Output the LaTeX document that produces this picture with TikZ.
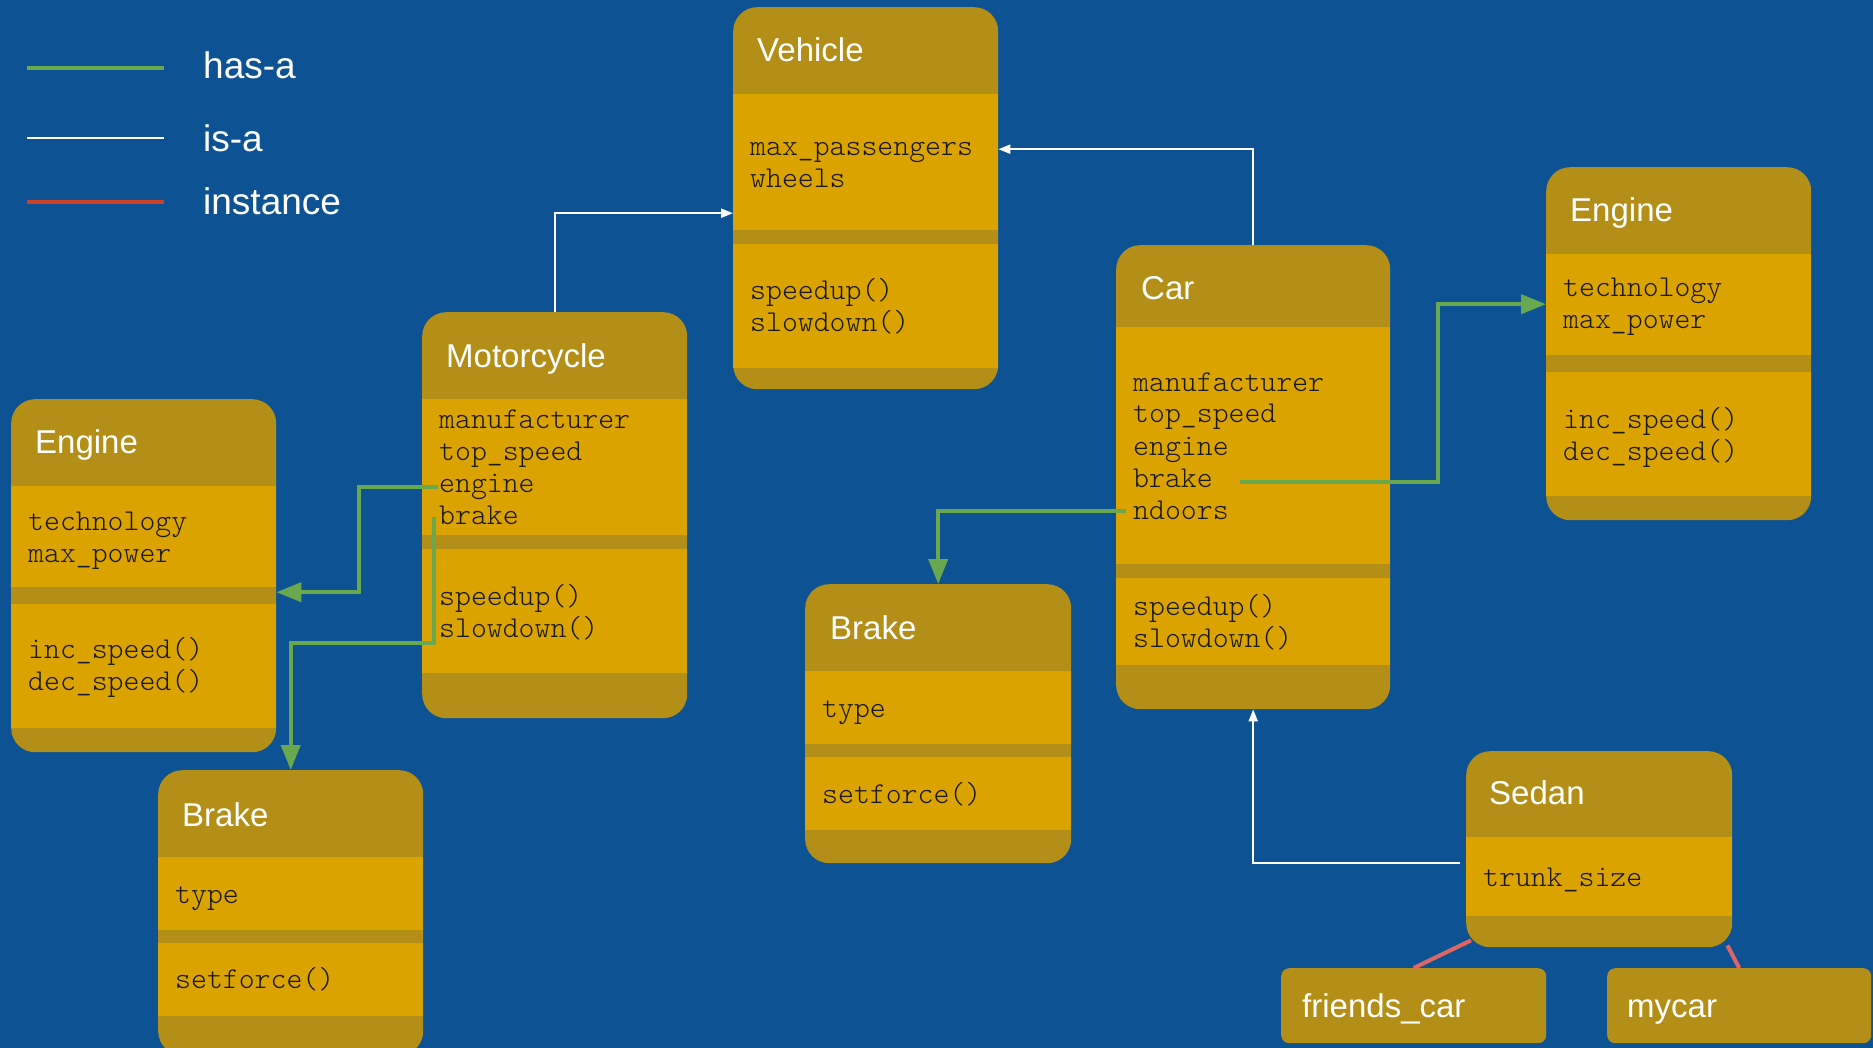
\documentclass[tikz,border=0pt]{standalone}
\usepackage{fontspec}
\setmainfont{Liberation Sans}
\newfontfamily\codefont{Latin Modern Mono Light}
\usetikzlibrary{arrows.meta}
\definecolor{bgblue}{HTML}{0D5394}
\definecolor{headgold}{HTML}{B48F18}
\definecolor{bodygold}{HTML}{DAA300}
\definecolor{hasgreen}{HTML}{6AA84F}
\definecolor{instred}{HTML}{CC4125}
\definecolor{linkred}{HTML}{E06666}
\newcommand{\members}[1]{\begin{tabular}[t]{@{}l@{}}#1\end{tabular}}

\begin{document}
\begin{tikzpicture}[x=1pt,y=-1pt,
    classbg/.style={fill=headgold,rounded corners=24pt,anchor=north west,inner sep=0pt,minimum width=265pt},
    instbox/.style={fill=headgold,rounded corners=8pt,anchor=north west,inner sep=0pt,minimum width=265pt,minimum height=75pt},
    section/.style={fill=bodygold,anchor=north west,inner sep=0pt,minimum width=265pt},
    title/.style={anchor=base west,inner sep=0pt,text=white,font=\fontsize{33}{36}\selectfont},
    fields/.style={anchor=base west,inner sep=0pt,text=black!90,font=\fontsize{30.3}{32}\selectfont\codefont},
    legend/.style={anchor=base west,inner sep=0pt,text=white,font=\fontsize{37}{40}\selectfont},
    isa/.style={draw=white,line width=2pt,-{Triangle[length=12pt,width=9pt]}},
    hasa/.style={draw=hasgreen,line width=4pt,-{Triangle[length=25pt,width=19pt]}},
    inst/.style={draw=linkred,line width=4pt}]
    \useasboundingbox (0,0) rectangle (1873,1048);
    \fill[bgblue] (0,0) rectangle (1873,1048);

    % legend
    \draw[hasgreen,line width=4.5pt] (27,68) -- (164,68);
    \draw[white,line width=2.5pt] (27,138) -- (164,138);
    \draw[instred,line width=4.5pt] (27,202) -- (164,202);
    \node[legend] (lg-has) at (203,79) {has-a};
    \node[legend] (lg-isa) at (203,152) {is-a};
    \node[legend] (lg-inst) at (203,215) {instance};

    % Vehicle
    \node[classbg,minimum height=382pt] (veh) at (733,7) {};
    \node[section,minimum height=136pt] (veh-a) at (733,94) {};
    \node[section,minimum height=124pt] (veh-m) at (733,244) {};
    \node[title] (veh-t) at (757,62) {Vehicle};
    \node[fields] (veh-af) at (750,156) {\members{max\_passengers\\wheels}};
    \node[fields] (veh-mf) at (750,300) {\members{speedup()\\slowdown()}};

    % Motorcycle
    \node[classbg,minimum height=406pt] (moto) at (422,312) {};
    \node[section,minimum height=136pt] (moto-a) at (422,399) {};
    \node[section,minimum height=124pt] (moto-m) at (422,549) {};
    \node[title] (moto-t) at (446,367) {Motorcycle};
    \node[fields] (moto-af) at (439,428) {\members{manufacturer\\top\_speed\\engine\\brake}};
    \node[fields] (moto-mf) at (439,605) {\members{speedup()\\slowdown()}};

    % Car
    \node[classbg,minimum width=274pt,minimum height=464pt] (car) at (1116,245) {};
    \node[section,minimum width=274pt,minimum height=237pt] (car-a) at (1116,327) {};
    \node[section,minimum width=274pt,minimum height=87pt] (car-m) at (1116,578) {};
    \node[title] (car-t) at (1141,300) {Car};
    \node[fields] (car-af) at (1133,391) {\members{manufacturer\\top\_speed\\engine\\brake\\ndoors}};
    \node[fields] (car-mf) at (1133,615) {\members{speedup()\\slowdown()}};

    % Engine (right)
    \node[classbg,minimum height=353pt] (engr) at (1546,167) {};
    \node[section,minimum height=101pt] (engr-a) at (1546,254) {};
    \node[section,minimum height=124pt] (engr-m) at (1546,372) {};
    \node[title] (engr-t) at (1570,222) {Engine};
    \node[fields] (engr-af) at (1563,297) {\members{technology\\max\_power}};
    \node[fields] (engr-mf) at (1563,428) {\members{inc\_speed()\\dec\_speed()}};

    % Engine (left)
    \node[classbg,minimum height=353pt] (engl) at (11,399) {};
    \node[section,minimum height=101pt] (engl-a) at (11,486) {};
    \node[section,minimum height=124pt] (engl-m) at (11,604) {};
    \node[title] (engl-t) at (35,453) {Engine};
    \node[fields] (engl-af) at (28,530) {\members{technology\\max\_power}};
    \node[fields] (engl-mf) at (28,658) {\members{inc\_speed()\\dec\_speed()}};

    % Brake (middle)
    \node[classbg,minimum width=266pt,minimum height=279pt] (brkm) at (805,584) {};
    \node[section,minimum width=266pt,minimum height=73pt] (brkm-a) at (805,671) {};
    \node[section,minimum width=266pt,minimum height=73pt] (brkm-m) at (805,757) {};
    \node[title] (brkm-t) at (830,639) {Brake};
    \node[fields] (brkm-af) at (822,717) {type};
    \node[fields] (brkm-mf) at (822,803) {setforce()};

    % Brake (left)
    \node[classbg,minimum height=285pt] (brkl) at (158,770) {};
    \node[section,minimum height=73pt] (brkl-a) at (158,857) {};
    \node[section,minimum height=73pt] (brkl-m) at (158,943) {};
    \node[title] (brkl-t) at (182,826) {Brake};
    \node[fields] (brkl-af) at (175,903) {type};
    \node[fields] (brkl-mf) at (175,988) {setforce()};

    % Sedan
    \node[classbg,minimum width=266pt,minimum height=196pt] (sedan) at (1466,751) {};
    \node[section,minimum width=266pt,minimum height=79pt] (sedan-a) at (1466,837) {};
    \node[title] (sedan-t) at (1489,804) {Sedan};
    \node[fields] (sedan-af) at (1483,886) {trunk\_size};

    % instances
    \node[instbox] (frcar) at (1281,968) {};
    \node[instbox,minimum width=264pt] (mycar) at (1607,968) {};
    \node[title] (frcar-t) at (1302,1017) {friends\_car};
    \node[title] (mycar-t) at (1627,1017) {mycar};

    % is-a
    \draw[isa] (moto.north) |- ([yshift=-15pt]veh.west);
    \draw[isa] (car.north) |- ([yshift=49pt]veh.east);
    \draw[isa] ([xshift=-6pt,yshift=13.5pt]sedan-a.west) -| (car.south);

    % has-a
    \coordinate (moto-engine) at (438,487);
    \coordinate (moto-brake) at (434,517);
    \coordinate (car-brake) at (1240,482);
    \coordinate (car-ndoors) at (1126,511);
    \draw[hasa] (moto-engine) -- ++(-79,0) |- ([yshift=-16.5pt]engl.east);
    \draw[hasa] (moto-brake) -- ++(0,126) -| (brkl.north);
    \draw[hasa] (car-brake) -- ++(198,0) |- ([yshift=39.5pt]engr.west);
    \draw[hasa] (car-ndoors) -| (brkm.north);

    % instance
    \draw[inst] (frcar.north) -- ([xshift=5pt,yshift=7pt]sedan.south west);
    \draw[inst] (mycar.north) -- ([xshift=-5pt,yshift=2pt]sedan.south east);
\end{tikzpicture}
\end{document}
